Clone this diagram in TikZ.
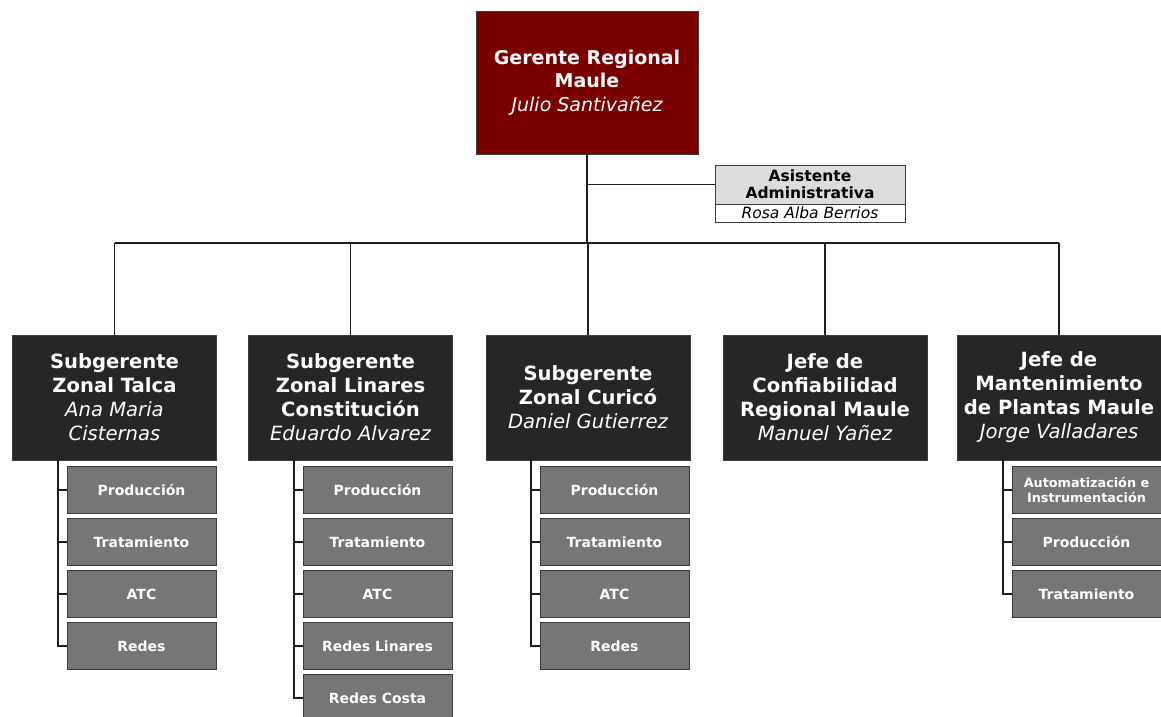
\documentclass[tikz,border=0pt]{standalone}
\usepackage{fontspec}
\setmainfont{DejaVu Sans}
\definecolor{maroon}{RGB}{122,0,0}
\definecolor{boxdark}{RGB}{38,38,38}
\definecolor{subgrey}{RGB}{118,118,118}
\definecolor{subedge}{RGB}{60,60,60}
\definecolor{asgrey}{RGB}{220,220,220}
\definecolor{linec}{RGB}{30,30,30}
\tikzset{
  topbox/.style={fill=maroon, draw=subedge, line width=1pt, text=white, inner sep=0pt,
    minimum width=222pt, minimum height=143pt, align=center,
    font=\fontsize{19}{23.5}\selectfont\bfseries},
  headbox/.style={fill=boxdark, draw=subedge, line width=1pt, text=white, inner sep=0pt,
    minimum width=204pt, minimum height=125pt, align=center,
    font=\fontsize{19.6}{24}\selectfont\bfseries},
  subbox/.style={fill=subgrey, draw=subedge, line width=1pt, text=white, inner sep=0pt,
    minimum width=149pt, minimum height=47pt, align=center,
    font=\fontsize{14}{16}\selectfont\bfseries},
  asbox/.style={fill=asgrey, draw=subedge, line width=0.8pt, inner sep=0pt,
    minimum width=190pt, minimum height=39pt, align=center,
    font=\fontsize{15.5}{17}\selectfont\bfseries},
  asname/.style={fill=white, draw=subedge, line width=0.8pt, inner sep=0pt,
    minimum width=190pt, minimum height=18pt, align=center,
    font=\fontsize{15.5}{16}\selectfont\itshape},
  conn/.style={draw=linec, line width=1.3pt},
}
\newcommand{\nm}[1]{{\mdseries\itshape #1}}
\begin{document}
\begin{tikzpicture}[x=1pt,y=-1pt]
\useasboundingbox (0,0) rectangle (1161,716);
% top
\node[topbox] (top) at (587,82.5) {Gerente Regional\\Maule\\\nm{Julio Santivañez}};
\node[asbox] (asst) at (810,184.5) {Asistente\\Administrativa};
\node[asname] (asstn) at (810,213) {Rosa Alba Berrios};
% level 2
\node[headbox] (t1) at (114.5,397.5) {Subgerente\\Zonal Talca\\\nm{Ana Maria}\\\nm{Cisternas}};
\node[headbox] (t2) at (350.5,397.5) {Subgerente\\Zonal Linares\\Constitución\\\nm{Eduardo Alvarez}};
\node[headbox] (t3) at (588,397.5) {Subgerente\\Zonal Curicó\\\nm{Daniel Gutierrez}};
\node[headbox] (t4) at (825,397.5) {Jefe de\\Confiabilidad\\Regional Maule\\\nm{Manuel Yañez}};
\node[headbox] (t5) at (1059,397.5) {Jefe de\\Mantenimiento\\de Plantas Maule\\\nm{Jorge Valladares}};
% bus
\coordinate (bus) at (587,243);
\coordinate (busL) at (114.5,243);
\coordinate (busR) at (1059,243);
\draw[conn] (top.south) -- (bus);
\draw[conn] (asst.west) -- (top.south |- asst.west);
\draw[conn] (busL) -- (busR);
\foreach \t in {t1,t2,t3,t4,t5}{\draw[conn] (\t.north) -- (\t.north |- bus);}
% sub boxes column 1
\node[subbox] (a1) at (141.5,490) {Producción};
\node[subbox] (a2) at (141.5,542) {Tratamiento};
\node[subbox] (a3) at (141.5,594) {ATC};
\node[subbox] (a4) at (141.5,646) {Redes};
\coordinate (ca) at (58,460);
\foreach \s in {a1,a2,a3,a4}{\draw[conn] (ca) |- (\s.west);}
% column 2
\node[subbox] (b1) at (377.5,490) {Producción};
\node[subbox] (b2) at (377.5,542) {Tratamiento};
\node[subbox] (b3) at (377.5,594) {ATC};
\node[subbox] (b4) at (377.5,646) {Redes Linares};
\node[subbox] (b5) at (377.5,698) {Redes Costa};
\coordinate (cb) at (294,460);
\foreach \s in {b1,b2,b3,b4,b5}{\draw[conn] (cb) |- (\s.west);}
% column 3
\node[subbox] (c1) at (614.5,490) {Producción};
\node[subbox] (c2) at (614.5,542) {Tratamiento};
\node[subbox] (c3) at (614.5,594) {ATC};
\node[subbox] (c4) at (614.5,646) {Redes};
\coordinate (cc) at (531,460);
\foreach \s in {c1,c2,c3,c4}{\draw[conn] (cc) |- (\s.west);}
% column 5
\node[subbox, font=\fontsize{12.8}{15}\selectfont\bfseries] (e1) at (1086.5,490) {Automatización e\\Instrumentación};
\node[subbox] (e2) at (1086.5,542) {Producción};
\node[subbox] (e3) at (1086.5,594) {Tratamiento};
\coordinate (ce) at (1003,460);
\foreach \s in {e1,e2,e3}{\draw[conn] (ce) |- (\s.west);}
\end{tikzpicture}
\end{document}
